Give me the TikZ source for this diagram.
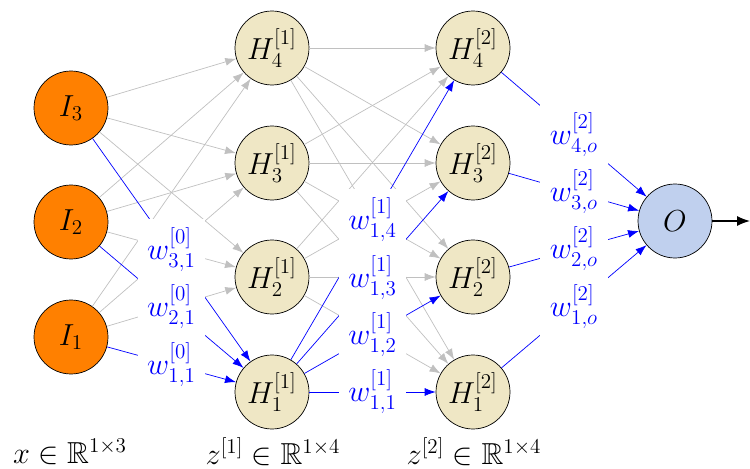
\documentclass[tikz,border=0pt]{standalone}
\usepackage{amssymb}
\usetikzlibrary{arrows.meta}
\definecolor{inputfill}{RGB}{255,128,0}
\definecolor{hiddenfill}{RGB}{239,231,197}
\definecolor{outputfill}{RGB}{192,208,238}
\definecolor{edgegray}{RGB}{192,192,192}
\begin{document}
\begin{tikzpicture}[x=0.02cm,y=-0.02cm,
  neuron/.style={circle,draw=black,thin,minimum size=1.48cm,inner sep=0pt,font=\LARGE},
  innode/.style={neuron,fill=inputfill},
  hidnode/.style={neuron,fill=hiddenfill},
  outnode/.style={neuron,fill=outputfill},
  conn/.style={draw=edgegray,-{Latex[length=2.2mm,width=1.6mm]}},
  wconn/.style={draw=blue,-{Latex[length=2.2mm,width=1.6mm]}},
  wlabel/.style={fill=white,text=blue,inner sep=5.5pt,font=\LARGE},
  dimlabel/.style={font=\LARGE}]
\useasboundingbox (0,0) rectangle (750,469);

% input layer
\node[innode] (I1) at (71,337) {$I_1$};
\node[innode] (I2) at (71,222) {$I_2$};
\node[innode] (I3) at (71,108) {$I_3$};

% first hidden layer
\node[hidnode] (A1) at (272,392) {$H_1^{[1]}$};
\node[hidnode] (A2) at (272,277) {$H_2^{[1]}$};
\node[hidnode] (A3) at (272,163) {$H_3^{[1]}$};
\node[hidnode] (A4) at (272,48)  {$H_4^{[1]}$};

% second hidden layer
\node[hidnode] (B1) at (473,392) {$H_1^{[2]}$};
\node[hidnode] (B2) at (473,277) {$H_2^{[2]}$};
\node[hidnode] (B3) at (473,163) {$H_3^{[2]}$};
\node[hidnode] (B4) at (473,48)  {$H_4^{[2]}$};

% output
\node[outnode] (O) at (675,221) {$O$};
\coordinate (out) at (750,221);

% unlabelled connections
\foreach \i in {1,2,3}{
  \foreach \j in {2,3,4}{
    \draw[conn] (I\i) -- (A\j);
  }
}
\foreach \i in {2,3,4}{
  \foreach \j in {1,2,3,4}{
    \draw[conn] (A\i) -- (B\j);
  }
}

% weighted connections
\foreach \i in {1,2,3}{ \draw[wconn] (I\i) -- (A1); }
\foreach \j in {1,2,3,4}{ \draw[wconn] (A1) -- (B\j); }
\foreach \j in {1,2,3,4}{ \draw[wconn] (B\j) -- (O); }
\draw[-{Latex[length=2.6mm,width=2mm]},thick] (O) -- (out);

% weight labels
\foreach \i in {1,2,3}{
  \path (I\i) -- (A1) node[midway,wlabel] {$w^{[0]}_{\i,1}$};
}
\foreach \j in {1,2,3,4}{
  \path (A1) -- (B\j) node[midway,wlabel] {$w^{[1]}_{1,\j}$};
}
\foreach \j in {1,2,3,4}{
  \path (B\j) -- (O) node[midway,wlabel] {$w^{[2]}_{\j,o}$};
}

% layer dimensions
\node[dimlabel] (dx) at (70,452) {$x\in\mathbb{R}^{1\times 3}$};
\node[dimlabel] (dz1) at (273,452) {$z^{[1]}\in\mathbb{R}^{1\times 4}$};
\node[dimlabel] (dz2) at (474,452) {$z^{[2]}\in\mathbb{R}^{1\times 4}$};
\end{tikzpicture}
\end{document}
